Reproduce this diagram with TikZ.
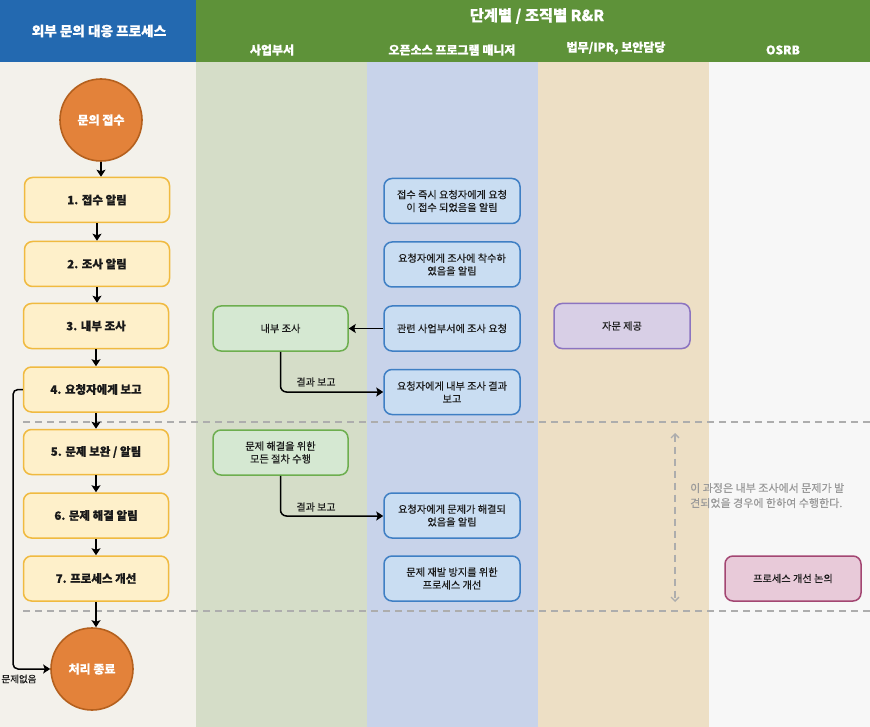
\documentclass[tikz,border=0pt]{standalone}
\usepackage{fontspec}
\setmainfont{Noto Sans CJK KR}[FakeBold=0.35]
\usetikzlibrary{arrows.meta,calc}
\definecolor{hblue}{HTML}{2369B0}
\definecolor{hgreen}{HTML}{5E9239}
\definecolor{bgleft}{HTML}{F3F1EB}
\definecolor{bgbiz}{HTML}{D5DDC8}
\definecolor{bgoss}{HTML}{C8D3EA}
\definecolor{bglaw}{HTML}{EDDFC5}
\definecolor{bgosrb}{HTML}{F7F7F7}
\definecolor{orfill}{HTML}{E3823A}
\definecolor{ordraw}{HTML}{B4601E}
\definecolor{yfill}{HTML}{FEF0CA}
\definecolor{ydraw}{HTML}{F0BA40}
\definecolor{gfill}{HTML}{D5E8D2}
\definecolor{gdraw}{HTML}{6DAE4F}
\definecolor{bfill}{HTML}{C9DDF2}
\definecolor{bdraw}{HTML}{3F7FC4}
\definecolor{pfill}{HTML}{D8CFE6}
\definecolor{pdraw}{HTML}{8C74C0}
\definecolor{kfill}{HTML}{E8CAD9}
\definecolor{kdraw}{HTML}{A34672}
\definecolor{dashgray}{HTML}{ADADAD}
\definecolor{notegray}{HTML}{999999}
\definecolor{txt}{HTML}{1A1A1A}
\tikzset{
  hdr/.style={text=white,font=\bfseries\fontsize{12}{14}\selectfont,inner sep=0},
  circ/.style={circle,draw=ordraw,fill=orfill,line width=1.6pt,minimum size=82pt,inner sep=0,text=white,font=\bfseries\fontsize{12}{14}\selectfont},
  ybox/.style={rectangle,rounded corners=8pt,draw=ydraw,fill=yfill,line width=1.5pt,minimum width=145pt,minimum height=45pt,inner sep=0,text=txt,font=\bfseries\fontsize{11.5}{13}\selectfont},
  gbox/.style={rectangle,rounded corners=8pt,draw=gdraw,fill=gfill,line width=1.5pt,minimum width=135pt,minimum height=45pt,inner sep=0,align=center,text=txt,font=\fontsize{10.2}{12.8}\selectfont},
  bbox/.style={rectangle,rounded corners=8pt,draw=bdraw,fill=bfill,line width=1.5pt,minimum width=136pt,minimum height=45pt,inner sep=0,align=center,text=txt,font=\fontsize{10.2}{12.8}\selectfont},
  pbox/.style={rectangle,rounded corners=8pt,draw=pdraw,fill=pfill,line width=1.5pt,minimum width=136pt,minimum height=45pt,inner sep=0,text=txt,font=\fontsize{10.2}{12.8}\selectfont},
  kbox/.style={rectangle,rounded corners=8pt,draw=kdraw,fill=kfill,line width=1.5pt,minimum width=136pt,minimum height=45pt,inner sep=0,text=txt,font=\fontsize{10.2}{12.8}\selectfont},
  arr/.style={draw=black,line width=1.5pt,-{Stealth[length=7pt,width=9pt,inset=1.5pt]}},
  lbl/.style={font=\fontsize{10}{11}\selectfont,inner sep=0,text=txt},
  sep/.style={draw=dashgray,line width=1.3pt,dash pattern=on 7pt off 5pt},
}
\begin{document}
\begin{tikzpicture}[x=1pt,y=-1pt]
\useasboundingbox (0,0) rectangle (870,727);
% lane backgrounds
\fill[bgleft] (0,62) rectangle (196,727);
\fill[bgbiz] (196,62) rectangle (367,727);
\fill[bgoss] (367,62) rectangle (538,727);
\fill[bglaw] (538,62) rectangle (709,727);
\fill[bgosrb] (709,62) rectangle (870,727);
% headers
\fill[hblue] (0,0) rectangle (196,62);
\fill[hgreen] (196,0) rectangle (870,62);
\node[hdr,font=\bfseries\fontsize{13.6}{15}\selectfont] (h0) at (99,31) {외부 문의 대응 프로세스};
\node[hdr,font=\bfseries\fontsize{15.3}{17}\selectfont] (h1) at (537,16) {단계별 / 조직별 R\&R};
\node[hdr] (h2) at (272,50) {사업부서};
\node[hdr] (h3) at (452,50) {오픈소스 프로그램 매니저};
\node[hdr] (h4) at (616,48) {법무/IPR, 보안담당};
\node[hdr] (h5) at (783,50) {OSRB};
% separators
\coordinate (s1a) at (23,422); \coordinate (s1b) at (870,422);
\coordinate (s2a) at (23,611); \coordinate (s2b) at (870,611);
\draw[sep] (s1a) -- (s1b);
\draw[sep] (s2a) -- (s2b);
% left column
\node[circ] (start) at (101,120) {문의 접수};
\node[ybox] (b1) at (97,200) {1. 접수 알림};
\node[ybox] (b2) at (97,264) {2. 조사 알림};
\node[ybox] (b3) at (96,326) {3. 내부 조사};
\node[ybox] (b4) at (96,389.5) {4. 요청자에게 보고};
\node[ybox] (b5) at (96,452) {5. 문제 보완 / 알림};
\node[ybox] (b6) at (96,515.5) {6. 문제 해결 알림};
\node[ybox] (b7) at (96,578.5) {7. 프로세스 개선};
\node[circ] (end) at (92,669) {처리 종료};
\draw[arr] (start.south) -- (start.south |- b1.north);
\draw[arr] (b1.south) -- (b1.south |- b2.north);
\draw[arr] (b2.south) -- (b2.south |- b3.north);
\draw[arr] (b3) -- (b4);
\draw[arr] (b4) -- (b5);
\draw[arr] (b5) -- (b6);
\draw[arr] (b6) -- (b7);
\draw[arr] (b7.south) -- (b7.south |- end.north);
\coordinate (loopx) at (13,0);
\draw[arr,rounded corners=5pt] (b4.west) -- (b4.west -| loopx) |- (end.west);
\node[lbl,font=\fontsize{9.5}{11}\selectfont] (nolbl) at (19,679) {문제없음};
% business dept
\node[gbox] (g1) at (280.5,328.5) {내부 조사};
\node[gbox] (g2) at (280.5,452.5) {문제 해결을 위한\\모든 절차 수행};
% OSS PM
\node[bbox] (o1) at (452,201) {접수 즉시 요청자에게 요청\\이 접수 되었음을 알림};
\node[bbox] (o2) at (452,264.5) {요청자에게 조사에 착수하\\였음을 알림};
\node[bbox] (o3) at (452,328.5) {관련 사업부서에 조사 요청};
\node[bbox] (o4) at (452,392) {요청자에게 내부 조사 결과\\보고};
\node[bbox] (o5) at (452,515.5) {요청자에게 문제가 해결되\\었음을 알림};
\node[bbox] (o6) at (452,578.5) {문제 재발 방지를 위한\\프로세스 개선};
\draw[arr] (o3) -- (g1);
\coordinate (r1) at (280.5,392);
\draw[arr,rounded corners=6pt] (g1.south) -- (r1) -- (o4.west);
\node[lbl] (rl1) at (316,382) {결과 보고};
\coordinate (r2) at (280.5,516);
\draw[arr,rounded corners=6pt] (g2.south) -- (r2) -- (r2 -| o5.west);
\node[lbl] (rl2) at (316,507) {결과 보고};
% law
\node[pbox] (p1) at (622,326) {자문 제공};
% OSRB
\node[kbox] (k1) at (793,578.5) {프로세스 개선 논의};
% note
\coordinate (n1) at (675,433);
\coordinate (n2) at (675,602);
\draw[dashgray,line width=1.3pt,dash pattern=on 7pt off 5pt,{Straight Barb[length=4pt,width=8pt]}-{Straight Barb[length=4pt,width=8pt]}] (n1) -- (n2);
\node[lbl,text=notegray,align=left,anchor=west,font=\fontsize{11}{15}\selectfont] (note) at (690,495.5) {이 과정은 내부 조사에서 문제가 발\\견되었을 경우에 한하여 수행한다.};
\end{tikzpicture}
\end{document}
